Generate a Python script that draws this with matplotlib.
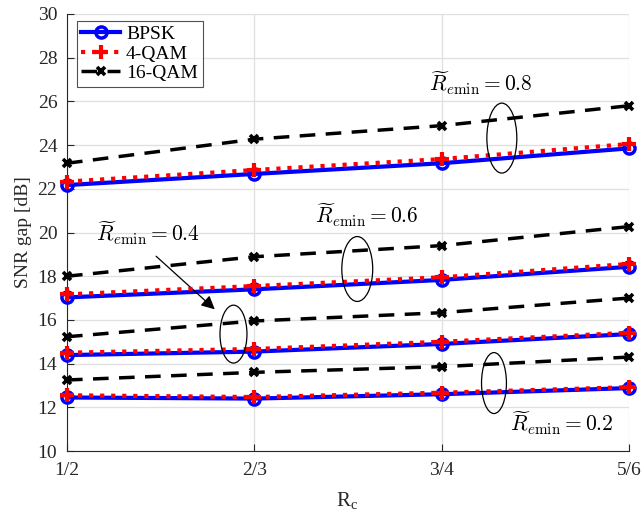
import numpy as np
import matplotlib
matplotlib.use("Agg")
import matplotlib.pyplot as plt
from matplotlib.patches import Ellipse

plt.rcParams['font.family'] = ['Liberation Serif', 'DejaVu Serif']
plt.rcParams['mathtext.fontset'] = 'cm'

# ---DATA
code_rates = ['1/2', '2/3', '3/4', '5/6']
r_min = [0.2, 0.4, 0.6, 0.8]

bpsk = [
    [12.45, 12.40, 12.60, 12.88],
    [14.39, 14.55, 14.90, 15.35],
    [17.03, 17.40, 17.83, 18.43],
    [22.17, 22.68, 23.17, 23.85],
]
qam4 = [
    [12.55, 12.47, 12.67, 12.92],
    [14.50, 14.67, 15.00, 15.41],
    [17.17, 17.55, 17.95, 18.56],
    [22.33, 22.86, 23.36, 24.05],
]
qam16 = [
    [13.25, 13.60, 13.86, 14.30],
    [15.23, 15.95, 16.33, 17.00],
    [18.00, 18.89, 19.40, 20.27],
    [23.17, 24.27, 24.89, 25.80],
]

x = np.arange(len(code_rates))

# ---PLOT
fig = plt.figure(figsize=(6.41, 5.18), dpi=100)
ax = fig.add_axes([0.1045, 0.1293, 0.8765, 0.8437])

for i in range(len(r_min)):
    lb = 'BPSK' if i == 0 else None
    l4 = '4-QAM' if i == 0 else None
    l16 = '16-QAM' if i == 0 else None
    ax.plot(x, bpsk[i], '-', color='#0000ff', lw=3, marker='o', ms=8,
            mfc='none', mew=2.5, label=lb, zorder=3, clip_on=False)
    ax.plot(x, qam4[i], ':', color='#ff0000', lw=3, marker='+', ms=10,
            mew=3, label=l4, zorder=4, clip_on=False)
    ax.plot(x, qam16[i], '--', color='black', lw=2.5, marker='x', ms=6,
            mew=2.6, label=l16, zorder=3, clip_on=False, dashes=(4.5, 3))

ax.set_xlim(0, 3)
ax.set_ylim(10, 30)
ax.set_xticks(x)
ax.set_xticklabels(code_rates)
ax.set_yticks(np.arange(10, 31, 2))
ax.tick_params(direction='in', labelsize=14, colors='#262626', length=5)
ax.tick_params(axis='x', pad=8)
ax.tick_params(axis='y', pad=7)
ax.grid(True, color='#dfdfdf', lw=0.9)
ax.set_axisbelow(True)
for s in ['top', 'right']:
    ax.spines[s].set_visible(False)
for s in ['left', 'bottom']:
    ax.spines[s].set_color('#262626')

ax.set_ylabel('SNR gap [dB]', fontsize=14, color='#262626', labelpad=4)
ax.set_xlabel(r'R$_\mathregular{c}$', fontsize=15, color='#262626', labelpad=8)

# ---ELLIPSES AND LABELS
ells = [(2.28, 13.11, 0.133, 2.79), (0.889, 15.35, 0.144, 2.65),
        (1.55, 18.33, 0.165, 2.97), (2.322, 24.32, 0.16, 3.2)]
for cx, cy, w, h in ells:
    ax.add_patch(Ellipse((cx, cy), w, h, fill=False, ec='black', lw=0.9, zorder=5))

txt_pos = [(2.64, 11.28), (0.43, 19.98), (1.60, 20.8), (2.21, 26.84)]
for r, (tx, ty) in zip(r_min, txt_pos):
    ax.text(tx, ty, r'$\widetilde{R}_{e\mathrm{min}} = %.1f$' % r,
            ha='center', va='center', fontsize=15.5, zorder=6)

ax.annotate('', xy=(0.80, 16.4), xytext=(0.465, 19.0),
            arrowprops=dict(arrowstyle='-|>', color='black', lw=0.9,
                            mutation_scale=20))

leg = ax.legend(loc='upper left', fontsize=14, frameon=True, fancybox=False,
                edgecolor='#262626', handlelength=2.0, borderpad=0.25,
                labelspacing=0.1, handletextpad=0.3, borderaxespad=0,
                bbox_to_anchor=(0.017, 0.985))
leg.get_frame().set_linewidth(0.8)

plt.savefig('out.png', dpi=100)
